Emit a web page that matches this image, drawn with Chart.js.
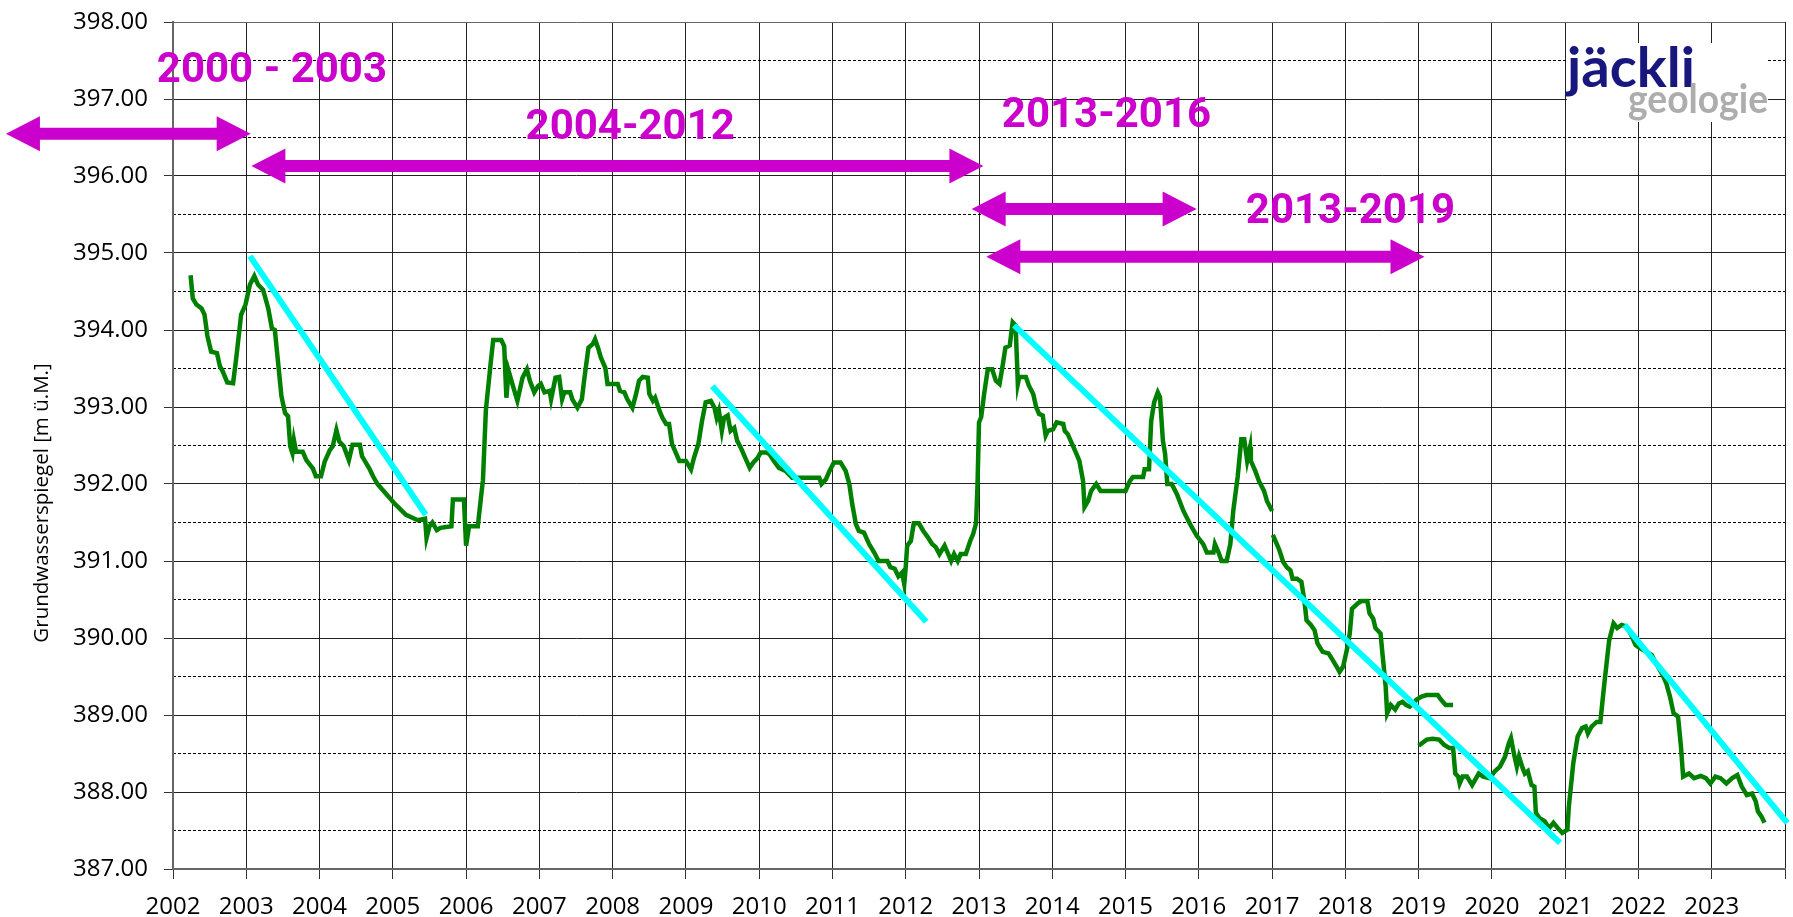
<!DOCTYPE html>
<html>
<head>
<meta charset="utf-8">
<script src="https://cdn.jsdelivr.net/npm/chart.js@4.4.0/dist/chart.umd.min.js"></script>
<style>
  html, body { margin: 0; padding: 0; background: #fff; }
  #wrap { width: 1793px; height: 917px; }
</style>
</head>
<body>
<div id="wrap"><canvas id="chart" width="1793" height="917"></canvas></div>
<script>
// groundwater level, three measured series (m ü.M.)
var seg1Years = [2002.24, 2002.27, 2002.32, 2002.39, 2002.43, 2002.47, 2002.52, 2002.60, 2002.64, 2002.68, 2002.74, 2002.82, 2002.86, 2002.93, 2002.99, 2003.05, 2003.11, 2003.16, 2003.23, 2003.30, 2003.35, 2003.39, 2003.48, 2003.53, 2003.57, 2003.60, 2003.63, 2003.65, 2003.68, 2003.77, 2003.82, 2003.91, 2003.95, 2004.02, 2004.07, 2004.14, 2004.18, 2004.23, 2004.27, 2004.33, 2004.40, 2004.45, 2004.55, 2004.58, 2004.68, 2004.73, 2004.79, 2004.91, 2005.02, 2005.18, 2005.34, 2005.44, 2005.46, 2005.50, 2005.54, 2005.60, 2005.65, 2005.80, 2005.82, 2005.97, 2006.00, 2006.04, 2006.16, 2006.20, 2006.23, 2006.27, 2006.34, 2006.37, 2006.48, 2006.52, 2006.55, 2006.58, 2006.64, 2006.70, 2006.77, 2006.83, 2006.87, 2006.93, 2006.98, 2007.02, 2007.07, 2007.14, 2007.16, 2007.22, 2007.27, 2007.31, 2007.34, 2007.42, 2007.45, 2007.52, 2007.58, 2007.61, 2007.67, 2007.73, 2007.76, 2007.80, 2007.84, 2007.90, 2007.93, 2008.07, 2008.10, 2008.16, 2008.20, 2008.27, 2008.32, 2008.36, 2008.41, 2008.48, 2008.50, 2008.55, 2008.58, 2008.64, 2008.68, 2008.73, 2008.77, 2008.81, 2008.86, 2008.91, 2009.00, 2009.07, 2009.11, 2009.17, 2009.22, 2009.27, 2009.34, 2009.39, 2009.42, 2009.45, 2009.49, 2009.52, 2009.57, 2009.61, 2009.66, 2009.70, 2009.75, 2009.81, 2009.87, 2009.92, 2009.98, 2010.02, 2010.09, 2010.14, 2010.20, 2010.27, 2010.36, 2010.45, 2010.55, 2010.82, 2010.85, 2010.91, 2010.96, 2011.02, 2011.11, 2011.18, 2011.23, 2011.27, 2011.32, 2011.36, 2011.43, 2011.50, 2011.57, 2011.63, 2011.75, 2011.79, 2011.85, 2011.90, 2011.95, 2011.98, 2012.00, 2012.02, 2012.07, 2012.11, 2012.18, 2012.24, 2012.30, 2012.36, 2012.41, 2012.46, 2012.53, 2012.58, 2012.62, 2012.66, 2012.71, 2012.75, 2012.82, 2012.88, 2012.92, 2012.96, 2012.98, 2013.00, 2013.03, 2013.07, 2013.12, 2013.18, 2013.23, 2013.28, 2013.32, 2013.36, 2013.42, 2013.46, 2013.50, 2013.53, 2013.55, 2013.64, 2013.68, 2013.74, 2013.78, 2013.82, 2013.87, 2013.91, 2013.94, 2014.01, 2014.06, 2014.15, 2014.17, 2014.21, 2014.27, 2014.33, 2014.37, 2014.42, 2014.44, 2014.49, 2014.53, 2014.60, 2014.66, 2015.00, 2015.06, 2015.10, 2015.24, 2015.26, 2015.32, 2015.35, 2015.39, 2015.44, 2015.47, 2015.51, 2015.54, 2015.57, 2015.63, 2015.70, 2015.79, 2015.88, 2015.97, 2016.06, 2016.11, 2016.20, 2016.22, 2016.27, 2016.31, 2016.38, 2016.43, 2016.47, 2016.53, 2016.58, 2016.62, 2016.66, 2016.70, 2016.71, 2016.77, 2016.82, 2016.89, 2016.93, 2017.00];
var seg1Levels = [394.71, 394.41, 394.33, 394.28, 394.20, 393.92, 393.72, 393.70, 393.53, 393.46, 393.32, 393.31, 393.61, 394.20, 394.33, 394.59, 394.70, 394.59, 394.52, 394.28, 394.02, 394.00, 393.14, 392.92, 392.88, 392.49, 392.40, 392.57, 392.42, 392.42, 392.31, 392.20, 392.10, 392.10, 392.29, 392.44, 392.49, 392.70, 392.55, 392.49, 392.31, 392.51, 392.51, 392.36, 392.20, 392.10, 392.00, 391.87, 391.75, 391.60, 391.53, 391.55, 391.30, 391.45, 391.50, 391.40, 391.43, 391.45, 391.80, 391.80, 391.20, 391.45, 391.45, 391.80, 392.05, 392.96, 393.61, 393.87, 393.87, 393.79, 393.12, 393.47, 393.27, 393.08, 393.38, 393.49, 393.34, 393.19, 393.27, 393.30, 393.19, 393.21, 393.10, 393.38, 393.39, 393.10, 393.19, 393.19, 393.10, 392.99, 393.10, 393.34, 393.77, 393.82, 393.88, 393.77, 393.64, 393.51, 393.30, 393.30, 393.21, 393.19, 393.10, 392.99, 393.17, 393.34, 393.39, 393.38, 393.17, 393.08, 393.12, 392.95, 392.86, 392.78, 392.78, 392.52, 392.41, 392.30, 392.30, 392.19, 392.34, 392.52, 392.82, 393.06, 393.08, 392.99, 392.86, 392.95, 392.69, 392.86, 392.89, 392.69, 392.73, 392.56, 392.47, 392.34, 392.21, 392.28, 392.34, 392.41, 392.41, 392.39, 392.30, 392.21, 392.17, 392.08, 392.08, 392.08, 392.00, 392.06, 392.17, 392.28, 392.28, 392.17, 392.00, 391.74, 391.48, 391.39, 391.37, 391.22, 391.11, 391.00, 391.00, 390.92, 390.90, 390.80, 390.85, 390.70, 390.92, 391.20, 391.26, 391.49, 391.49, 391.39, 391.31, 391.22, 391.18, 391.09, 391.20, 391.09, 391.00, 391.09, 391.00, 391.09, 391.09, 391.26, 391.35, 391.49, 392.00, 392.80, 392.87, 393.17, 393.49, 393.49, 393.34, 393.30, 393.52, 393.77, 393.80, 394.10, 394.06, 393.30, 393.39, 393.39, 393.28, 393.17, 393.00, 392.91, 392.89, 392.63, 392.69, 392.71, 392.80, 392.78, 392.69, 392.65, 392.52, 392.39, 392.30, 392.04, 391.70, 391.78, 391.91, 392.00, 391.91, 391.91, 392.04, 392.09, 392.09, 392.19, 392.19, 392.82, 393.06, 393.19, 393.13, 392.56, 392.39, 392.00, 392.00, 391.87, 391.65, 391.48, 391.33, 391.22, 391.11, 391.11, 391.22, 391.11, 391.00, 391.00, 391.22, 391.65, 392.09, 392.58, 392.58, 392.30, 392.48, 392.30, 392.17, 392.04, 391.91, 391.78, 391.65];

var seg2Years = [2017.01, 2017.06, 2017.10, 2017.15, 2017.20, 2017.25, 2017.28, 2017.34, 2017.40, 2017.44, 2017.47, 2017.53, 2017.58, 2017.62, 2017.69, 2017.77, 2017.83, 2017.88, 2017.92, 2017.97, 2018.03, 2018.06, 2018.09, 2018.17, 2018.22, 2018.30, 2018.33, 2018.38, 2018.41, 2018.48, 2018.51, 2018.55, 2018.57, 2018.62, 2018.68, 2018.73, 2018.78, 2018.83, 2018.88, 2018.93, 2018.97, 2019.04, 2019.11, 2019.19, 2019.26, 2019.29, 2019.33, 2019.37, 2019.47];
var seg2Levels = [391.34, 391.23, 391.14, 390.99, 390.92, 390.88, 390.77, 390.77, 390.73, 390.49, 390.23, 390.17, 390.10, 389.93, 389.82, 389.80, 389.71, 389.63, 389.56, 389.63, 389.89, 390.06, 390.38, 390.45, 390.48, 390.48, 390.32, 390.25, 390.13, 390.06, 389.76, 389.37, 389.02, 389.13, 389.07, 389.15, 389.17, 389.13, 389.11, 389.15, 389.20, 389.24, 389.26, 389.26, 389.26, 389.22, 389.17, 389.13, 389.13];

var seg3Years = [2019.00, 2019.04, 2019.11, 2019.19, 2019.28, 2019.35, 2019.42, 2019.47, 2019.50, 2019.54, 2019.56, 2019.60, 2019.66, 2019.73, 2019.82, 2019.88, 2019.97, 2020.04, 2020.11, 2020.18, 2020.23, 2020.26, 2020.30, 2020.34, 2020.37, 2020.42, 2020.45, 2020.49, 2020.54, 2020.58, 2020.60, 2020.65, 2020.72, 2020.78, 2020.84, 2020.90, 2020.96, 2021.03, 2021.05, 2021.11, 2021.17, 2021.23, 2021.28, 2021.31, 2021.36, 2021.43, 2021.48, 2021.53, 2021.60, 2021.66, 2021.71, 2021.77, 2021.83, 2021.90, 2021.96, 2022.02, 2022.11, 2022.18, 2022.24, 2022.33, 2022.38, 2022.43, 2022.48, 2022.54, 2022.58, 2022.61, 2022.69, 2022.76, 2022.85, 2022.92, 2022.98, 2023.05, 2023.12, 2023.20, 2023.28, 2023.35, 2023.41, 2023.48, 2023.55, 2023.60, 2023.63, 2023.68, 2023.72];
var seg3Levels = [388.60, 388.63, 388.68, 388.69, 388.68, 388.61, 388.57, 388.57, 388.24, 388.20, 388.11, 388.20, 388.20, 388.09, 388.24, 388.20, 388.18, 388.27, 388.33, 388.46, 388.63, 388.70, 388.50, 388.33, 388.46, 388.31, 388.24, 388.27, 388.09, 388.07, 387.73, 387.66, 387.62, 387.53, 387.60, 387.53, 387.47, 387.51, 387.81, 388.37, 388.72, 388.83, 388.85, 388.76, 388.85, 388.91, 388.91, 389.37, 389.97, 390.19, 390.13, 390.17, 390.15, 390.04, 389.91, 389.87, 389.82, 389.78, 389.67, 389.52, 389.41, 389.24, 389.02, 388.98, 388.59, 388.20, 388.24, 388.18, 388.21, 388.18, 388.11, 388.20, 388.18, 388.11, 388.18, 388.22, 388.07, 387.96, 387.98, 387.88, 387.75, 387.68, 387.60];

// cyan trend lines: start and end
var trendStartYears = [2003.05, 2009.36, 2013.48, 2021.81];
var trendStartLevels = [394.96, 393.27, 394.06, 390.17];
var trendEndYears = [2005.45, 2012.28, 2020.93, 2024.03];
var trendEndLevels = [391.60, 390.21, 387.34, 387.60];

// magenta period arrows and labels
var periodLabels = ['2000 - 2003', '2004-2012', '2013-2016', '2013-2019'];
var labelYears = [2003.35, 2008.24, 2014.74, 2018.07];
var labelLevels = [397.36, 396.62, 396.77, 395.52];
var arrowFromYears = [1999.72, 2003.07, 2012.90, 2013.10];
var arrowToYears = [2003.06, 2013.06, 2015.97, 2019.08];
var arrowLevels = [396.55, 396.13, 395.57, 394.95];

var xTicks = [2002, 2003, 2004, 2005, 2006, 2007, 2008, 2009, 2010, 2011, 2012, 2013, 2014, 2015, 2016, 2017, 2018, 2019, 2020, 2021, 2022, 2023, 2024];
var yMajorTicks = [387, 388, 389, 390, 391, 392, 393, 394, 395, 396, 397, 398];
var yMinorTicks = [387.5, 388.5, 389.5, 390.5, 391.5, 392.5, 393.5, 394.5, 395.5, 396.5, 397.5];

var MAGENTA = '#cc00cc';
var GREEN = '#008000';
var CYAN = '#00ffff';
var TICK_FONT = { family: '"Open Sans", sans-serif', size: 24 };

function toPoints(xs, ys) {
  return xs.map(function (x, i) { return { x: x, y: ys[i] }; });
}

var datasets = [];
[[seg1Years, seg1Levels], [seg2Years, seg2Levels], [seg3Years, seg3Levels]].forEach(function (s) {
  datasets.push({ data: toPoints(s[0], s[1]), borderColor: GREEN, borderWidth: 4.5, pointRadius: 0, tension: 0, order: 2 });
});
trendStartYears.forEach(function (x0, i) {
  datasets.push({
    data: [{ x: x0, y: trendStartLevels[i] }, { x: trendEndYears[i], y: trendEndLevels[i] }],
    borderColor: CYAN, borderWidth: 6, pointRadius: 0, borderCapStyle: 'butt', clip: false, order: 1
  });
});

function doubleArrow(ctx, x0, x1, y) {
  var shaft = 6, head = 34, half = 17.5;
  ctx.beginPath();
  ctx.moveTo(x0, y);
  ctx.lineTo(x0 + head, y - half);
  ctx.lineTo(x0 + head, y - shaft);
  ctx.lineTo(x1 - head, y - shaft);
  ctx.lineTo(x1 - head, y - half);
  ctx.lineTo(x1, y);
  ctx.lineTo(x1 - head, y + half);
  ctx.lineTo(x1 - head, y + shaft);
  ctx.lineTo(x0 + head, y + shaft);
  ctx.lineTo(x0 + head, y + half);
  ctx.closePath();
  ctx.fill();
}

function fitText(ctx, text, x, y, w) {
  var m = ctx.measureText(text).width;
  ctx.save();
  ctx.translate(x, y);
  ctx.scale(w / m, 1);
  ctx.fillText(text, 0, 0);
  ctx.restore();
}

var overlayPlugin = {
  id: 'overlay',
  afterDraw: function (chart) {
    var ctx = chart.ctx, sx = chart.scales.x, sy = chart.scales.y;
    ctx.save();
    // y axis title, set lower than centre as in the original
    ctx.translate(42, 503);
    ctx.rotate(-Math.PI / 2);
    ctx.fillStyle = '#000';
    ctx.font = '20.5px "Open Sans", sans-serif';
    ctx.textAlign = 'center';
    ctx.textBaseline = 'middle';
    ctx.fillText('Grundwasserspiegel [m ü.M.]', 0, 0);
    ctx.restore();

    ctx.save();
    // logo
    ctx.fillStyle = '#fff';
    ctx.fillRect(1567, 43, 201, 79);
    ctx.textBaseline = 'alphabetic';
    ctx.textAlign = 'left';
    ctx.fillStyle = '#17177e';
    ctx.font = 'bold 56px Lato, sans-serif';
    fitText(ctx, 'jäckli', 1567, 87, 128);
    ctx.fillStyle = '#adadad';
    ctx.font = 'bold 40px Lato, sans-serif';
    fitText(ctx, 'geologie', 1628, 113, 140);

    // arrows and period labels
    ctx.fillStyle = MAGENTA;
    arrowFromYears.forEach(function (x0, i) {
      doubleArrow(ctx, sx.getPixelForValue(x0), sx.getPixelForValue(arrowToYears[i]), sy.getPixelForValue(arrowLevels[i]));
    });
    ctx.font = 'bold 42px Roboto, sans-serif';
    ctx.textAlign = 'center';
    ctx.textBaseline = 'middle';
    periodLabels.forEach(function (t, i) {
      ctx.fillText(t, sx.getPixelForValue(labelYears[i]), sy.getPixelForValue(labelLevels[i]));
    });
    ctx.restore();
  }
};

new Chart(document.getElementById('chart'), {
  type: 'line',
  data: { datasets: datasets },
  plugins: [overlayPlugin],
  options: {
    responsive: false,
    devicePixelRatio: 1,
    animation: false,
    layout: { padding: { top: 22, right: 8, left: 0, bottom: 0 } },
    plugins: { legend: { display: false }, tooltip: { enabled: false } },
    scales: {
      x: {
        type: 'linear',
        min: 2002, max: 2024,
        afterBuildTicks: function (s) { s.ticks = xTicks.map(function (v) { return { value: v }; }); },
        ticks: {
          autoSkip: false, maxRotation: 0, color: '#000', font: TICK_FONT, padding: 14,
          callback: function (v) { return v < 2024 ? String(v) : ''; }
        },
        grid: { color: '#222', lineWidth: 1, tickLength: 10, tickColor: '#333' },
        border: { color: '#666', width: 2 },
        afterFit: function (s) { s.height = 48; s.paddingRight = 0; }
      },
      y: {
        min: 387, max: 398,
        afterBuildTicks: function (s) { s.ticks = yMajorTicks.map(function (v) { return { value: v }; }); },
        ticks: {
          autoSkip: false, color: '#000', font: TICK_FONT, padding: 16,
          callback: function (v) { return v.toFixed(2); }
        },
        grid: {
          color: function (c) { return c.tick && c.tick.value === 398 ? '#666' : '#222'; },
          lineWidth: 1, tickLength: 9, tickColor: '#333'
        },
        border: { color: '#666', width: 2 },
        afterFit: function (s) { s.width = 173; s.paddingTop = 0; s.paddingBottom = 0; }
      },
      yMinor: {
        position: 'left',
        min: 387, max: 398,
        afterBuildTicks: function (s) { s.ticks = yMinorTicks.map(function (v) { return { value: v }; }); },
        ticks: { display: false },
        grid: { color: '#000', lineWidth: 1, drawTicks: false },
        border: { display: false, dash: [3, 2] },
        afterFit: function (s) { s.width = 0; s.paddingTop = 0; s.paddingBottom = 0; }
      }
    }
  }
});
</script>
</body>
</html>
